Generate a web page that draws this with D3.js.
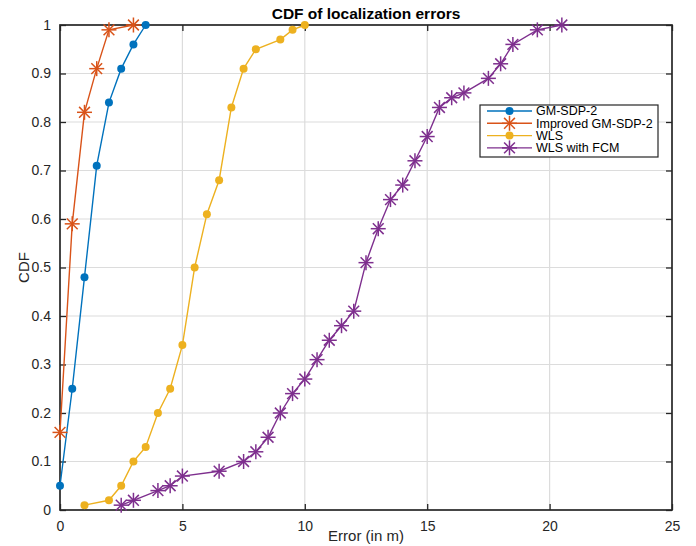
<!DOCTYPE html>
<html><head><meta charset="utf-8">
<script src="https://cdn.jsdelivr.net/npm/d3@7/dist/d3.min.js"></script>
<style>body{margin:0;background:#fff}svg{display:block}text{font-family:"Liberation Sans",Arial,sans-serif}</style>
</head><body>
<svg id="c" width="696" height="546"></svg>
<script>
const seriesNames = ["GM-SDP-2","Improved GM-SDP-2","WLS","WLS with FCM"];
const gmX = [0,0.5,1,1.5,2,2.5,3,3.5];
const gmY = [0.05,0.25,0.48,0.71,0.84,0.91,0.96,1.0];
const impX = [0,0.5,1,1.5,2,3];
const impY = [0.16,0.59,0.82,0.91,0.99,1.0];
const wlsX = [1,2,2.5,3,3.5,4,4.5,5,5.5,6,6.5,7,7.5,8,9,9.5,10];
const wlsY = [0.01,0.02,0.05,0.10,0.13,0.20,0.25,0.34,0.50,0.61,0.68,0.83,0.91,0.95,0.97,0.99,1.0];
const fcmX = [2.5,3,4,4.5,5,6.5,7.5,8,8.5,9,9.5,10,10.5,11,11.5,12,12.5,13,13.5,14,14.5,15,15.5,16,16.5,17.5,18,18.5,19.5,20.5];
const fcmY = [0.01,0.02,0.04,0.05,0.07,0.08,0.10,0.12,0.15,0.20,0.24,0.27,0.31,0.35,0.38,0.41,0.51,0.58,0.64,0.67,0.72,0.77,0.83,0.85,0.86,0.89,0.92,0.96,0.99,1.0];
const xTicks = [0,5,10,15,20,25];
const yTicks = [0,0.1,0.2,0.3,0.4,0.5,0.6,0.7,0.8,0.9,1];
const title = "CDF of localization errors";
const xLabel = "Error (in m)";
const yLabel = "CDF";

const colors = ["#0072BD","#D95319","#EDB120","#7E2F8E"];
const markers = ["dot","star","dot","star"];
const series = [[gmX,gmY],[impX,impY],[wlsX,wlsY],[fcmX,fcmY]].map((s,i)=>({
  name: seriesNames[i], color: colors[i], marker: markers[i],
  pts: s[0].map((x,j)=>[x,s[1][j]])
}));

const L=60,R=672,T=25,B=510;
const x = d3.scaleLinear().domain([0,25]).range([L,R]);
const y = d3.scaleLinear().domain([0,1]).range([B,T]);
const svg = d3.select("#c");
const axisColor="#262626";

// grid
svg.append("g").selectAll("line").data(xTicks.slice(1,-1)).join("line")
  .attr("x1",d=>x(d)).attr("x2",d=>x(d)).attr("y1",T).attr("y2",B)
  .attr("stroke","#dcdcdc").attr("stroke-width",1.2);
svg.append("g").selectAll("line").data(yTicks.slice(1,-1)).join("line")
  .attr("y1",d=>y(d)).attr("y2",d=>y(d)).attr("x1",L).attr("x2",R)
  .attr("stroke","#dcdcdc").attr("stroke-width",1.2);

// axes
const fmt = d=> d===0?"0":(d===1?"1":d3.format(".1f")(d));
const gx = svg.append("g").attr("transform",`translate(0,${B})`)
  .call(d3.axisBottom(x).tickValues(xTicks).tickSize(-6).tickPadding(11));
const gxt = svg.append("g").attr("transform",`translate(0,${T})`)
  .call(d3.axisTop(x).tickValues(xTicks).tickSize(-6).tickFormat(""));
const gy = svg.append("g").attr("transform",`translate(${L},0)`)
  .call(d3.axisLeft(y).tickValues(yTicks).tickSize(-6).tickPadding(9).tickFormat(fmt));
const gyr = svg.append("g").attr("transform",`translate(${R},0)`)
  .call(d3.axisRight(y).tickValues(yTicks).tickSize(-6).tickFormat(""));
[gx,gxt,gy,gyr].forEach(g=>{
  g.select(".domain").remove();
  g.selectAll(".tick line").attr("stroke",axisColor).attr("stroke-width",1.3);
  g.selectAll(".tick text").attr("fill",axisColor).style("font-size","14px");
});
svg.append("rect").attr("x",L).attr("y",T).attr("width",R-L).attr("height",B-T)
  .attr("fill","none").attr("stroke",axisColor).attr("stroke-width",1.7);

// series
const line = d3.line().x(d=>x(d[0])).y(d=>y(d[1]));
function drawMarker(g, cx, cy, m, color){
  if(m==="dot"){
    g.append("circle").attr("cx",cx).attr("cy",cy).attr("r",4).attr("fill",color);
  } else {
    const r=7.5, d=r*0.72;
    const segs=[[-r,0,r,0],[0,-r,0,r],[-d,-d,d,d],[-d,d,d,-d]];
    segs.forEach(s=>g.append("line").attr("x1",cx+s[0]).attr("y1",cy+s[1]).attr("x2",cx+s[2]).attr("y2",cy+s[3])
      .attr("stroke",color).attr("stroke-width",1.5));
  }
}
series.forEach(s=>{
  const g = svg.append("g");
  g.append("path").attr("d",line(s.pts)).attr("fill","none").attr("stroke",s.color).attr("stroke-width",1.4);
  s.pts.forEach(p=>drawMarker(g,x(p[0]),y(p[1]),s.marker,s.color));
});

// title and labels
svg.append("text").attr("x",(L+R)/2).attr("y",19).attr("text-anchor","middle")
  .style("font-size","15.5px").style("font-weight","bold").attr("fill","#000").text(title);
svg.append("text").attr("x",(L+R)/2).attr("y",541).attr("text-anchor","middle")
  .style("font-size","15px").attr("fill",axisColor).text(xLabel);
svg.append("text").attr("transform",`translate(29,${(T+B)/2}) rotate(-90)`).attr("text-anchor","middle")
  .style("font-size","15px").attr("fill",axisColor).text(yLabel);

// legend
const lg = svg.append("g");
lg.append("rect").attr("x",480).attr("y",105).attr("width",178).attr("height",52)
  .attr("fill","#fff").attr("stroke",axisColor).attr("stroke-width",1.2);
series.forEach((s,i)=>{
  const ly = 111 + i*12.3;
  lg.append("line").attr("x1",487).attr("x2",532).attr("y1",ly).attr("y2",ly)
    .attr("stroke",s.color).attr("stroke-width",1.4);
  drawMarker(lg,509.5,ly,s.marker,s.color);
  lg.append("text").attr("x",536).attr("y",ly+4.2).style("font-size","12.5px").attr("fill","#000").text(s.name);
});
</script>
</body></html>
